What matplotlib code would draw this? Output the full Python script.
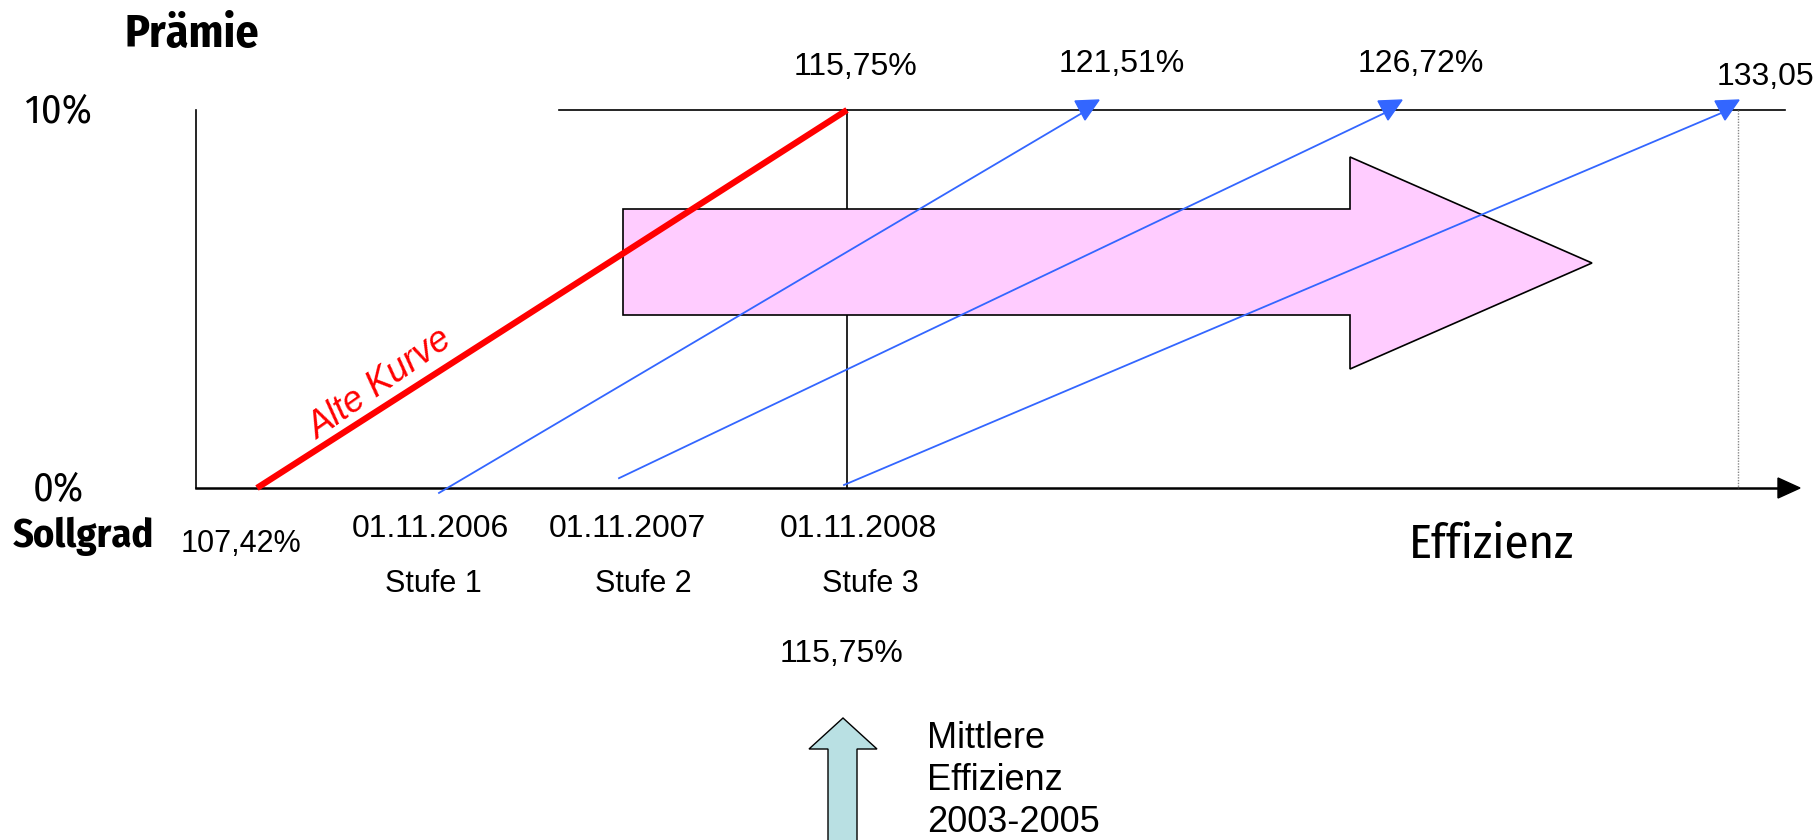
import matplotlib
matplotlib.use("Agg")
import matplotlib.pyplot as plt
from matplotlib.patches import Polygon

# --- chart content (schematic, positions in image pixels, premium in %) ---
premium_ticks = [0, 10]
premium_labels = ["0%", "10%"]

old_curve_x = [257, 847]
old_curve_prem = [0, 10]
old_curve_start = "107,42%"
old_curve_end = "115,75%"

stage_dates = ["01.11.2006", "01.11.2007", "01.11.2008"]
stage_names = ["Stufe 1", "Stufe 2", "Stufe 3"]
stage_start_x = [439, 619, 844]
stage_start_prem = [-0.13, 0.26, 0.08]
stage_end_x = [1087, 1390, 1727]
stage_end_prem = [9.95, 9.95, 9.95]
stage_targets = ["121,51%", "126,72%", "133,05"]

mean_eff_label = "115,75%"
mean_eff_lines = ["Mittlere", "Effizienz", "2003-2005"]

W, H = 1814, 840
Y0, Y10 = 488, 110   # pixel rows of 0% and 10%


def py(p):
    return Y0 - p * (Y0 - Y10) / 10.0


fig = plt.figure(figsize=(W / 100, H / 100), dpi=100)
ax = fig.add_axes([0, 0, 1, 1])
ax.set_xlim(0, W)
ax.set_ylim(H, 0)
ax.axis("off")

cond = dict(family=["Fira Sans Condensed", "DejaVu Sans"])
arial = dict(family=["Liberation Sans", "DejaVu Sans"])

# axes frame
ax.plot([196, 196], [py(10), py(0)], color="black", lw=1.2)
ax.plot([196, 1780], [py(0), py(0)], color="black", lw=1.8)
ax.add_patch(Polygon([[1778, py(0) - 10], [1800, py(0)], [1778, py(0) + 10]],
                     closed=True, color="black"))
ax.plot([559, 1785], [py(10), py(10)], color="black", lw=1.2)
ax.plot([old_curve_x[1], old_curve_x[1]], [py(10), py(0)], color="black", lw=1.2)
ax.plot([1738, 1738], [py(10), py(0)], color="#888888", lw=1.0, ls=(0, (1, 1)))

# pink arrow (shift of efficiency)
pink = [[623, 209], [1350, 209], [1350, 157], [1592, 263],
        [1350, 369], [1350, 315], [623, 315]]
ax.add_patch(Polygon(pink, closed=True, facecolor="#FFCCFF", edgecolor="black",
                     lw=1.2, zorder=2))

# old curve
ax.plot(old_curve_x, [py(v) for v in old_curve_prem], color="#FF0000", lw=4.5,
        solid_capstyle="butt", zorder=4)
ax.text(381, 384, "Alte Kurve", color="#FF0000", fontsize=26, style="italic",
        rotation=35, ha="center", va="center", rotation_mode="anchor", **arial)

# new stage curves
for x0, p0, x1, p1 in zip(stage_start_x, stage_start_prem, stage_end_x, stage_end_prem):
    ax.plot([x0, x1 - 3], [py(p0), py(p1)], color="#3366FF", lw=1.3, zorder=3)
    tri = [[x1 - 12, 101], [x1 + 12, 100], [x1 - 2, 120]]
    ax.add_patch(Polygon(tri, closed=True, color="#3366FF", zorder=3))

# y labels
ax.text(192, 47, "Prämie", fontsize=33, fontweight="bold", ha="center", va="baseline", **cond)
for p, lab in zip(premium_ticks, premium_labels):
    ax.text(58, py(p) + 13, lab, fontsize=29, fontweight="normal", ha="center",
            va="baseline", **cond)
ax.text(83, 547, "Sollgrad", fontsize=29, fontweight="bold", ha="center", va="baseline", **cond)
ax.text(1492, 557, "Effizienz", fontsize=35, fontweight="normal", ha="center",
        va="baseline", **cond)

# x labels
ax.text(241, 552, old_curve_start, fontsize=22, ha="center", va="baseline", **arial)
date_x = [430, 627, 858]
name_x = [433, 643, 870]
for dx, nx, d, n in zip(date_x, name_x, stage_dates, stage_names):
    ax.text(dx, 537, d, fontsize=23, ha="center", va="baseline", **arial)
    ax.text(nx, 592, n, fontsize=22, ha="center", va="baseline", **arial)

# top target labels
ax.text(855, 75, old_curve_end, fontsize=23, ha="center", va="baseline", **arial)
ax.text(1122, 72, stage_targets[0], fontsize=23, ha="center", va="baseline", **arial)
ax.text(1421, 72, stage_targets[1], fontsize=23, ha="center", va="baseline", **arial)
ax.text(1717, 85, stage_targets[2], fontsize=23, ha="left", va="baseline", **arial)

# mean efficiency marker
ax.text(842, 662, mean_eff_label, fontsize=23, ha="center", va="baseline", **arial)
up = [[843, 718], [877, 749], [857, 749], [857, 845], [828, 845], [828, 749], [809, 749]]
ax.add_patch(Polygon(up, closed=True, facecolor="#B9E0E3", edgecolor="black", lw=1.0))
for i, line in enumerate(mean_eff_lines):
    ax.text(927, 748 + 42 * i, line, fontsize=26, ha="left", va="baseline", **arial)

fig.savefig("out.png", dpi=100)
